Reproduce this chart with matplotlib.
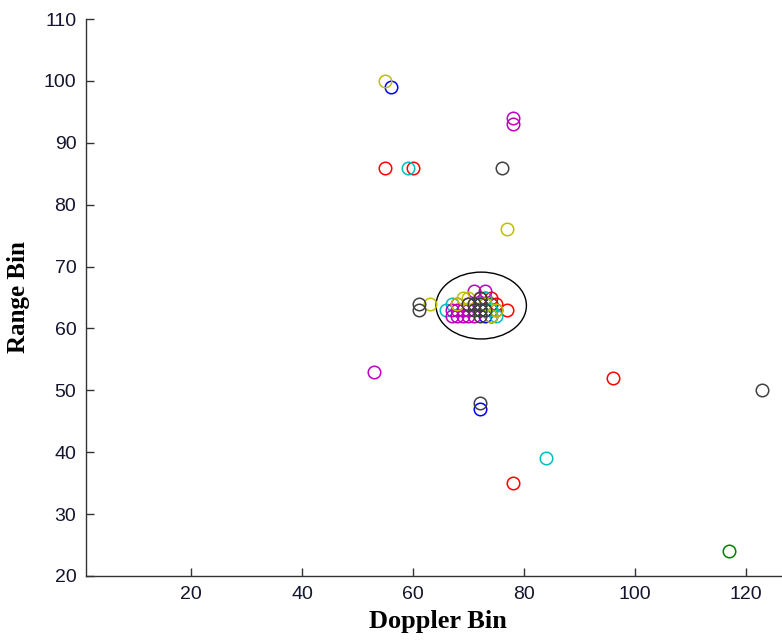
import matplotlib.pyplot as plt
from matplotlib.patches import Ellipse

# detections per tracking color (Doppler bin, range bin)
blue_x = [56, 72, 73, 73, 74, 74, 74, 72]
blue_y = [99, 47, 62, 63, 62, 63, 64, 64]
green_x = [117, 72, 73, 74]
green_y = [24, 63, 64, 64]
red_x = [55, 60, 96, 78, 77, 72, 73, 74, 75, 75]
red_y = [86, 86, 52, 35, 63, 65, 65, 65, 64, 63]
cyan_x = [59, 84, 66, 67, 73, 74, 75]
cyan_y = [86, 39, 63, 64, 65, 63, 62]
magenta_x = [78, 78, 53, 71, 73, 67, 67, 68, 68, 68, 69, 69, 70, 70, 70, 71]
magenta_y = [94, 93, 53, 66, 66, 62, 63, 62, 63, 64, 62, 63, 62, 63, 64, 62]
yellow_x = [55, 77, 63, 68, 69, 70, 73, 74, 75]
yellow_y = [100, 76, 64, 64, 65, 65, 64, 62, 63]
black_x = [76, 61, 61, 72, 123, 70, 71, 71, 72, 72, 72, 72, 73]
black_y = [86, 64, 63, 48, 50, 64, 63, 64, 62, 63, 64, 65, 63]

# cluster outline
cluster_center = (72.3, 63.7)
cluster_w = 16.3
cluster_h = 10.8

series = [
    (blue_x, blue_y, (0, 0, 1)),
    (green_x, green_y, (0, 0.5, 0)),
    (red_x, red_y, (1, 0, 0)),
    (cyan_x, cyan_y, (0, 0.75, 0.75)),
    (magenta_x, magenta_y, (0.75, 0, 0.75)),
    (yellow_x, yellow_y, (0.75, 0.75, 0)),
    (black_x, black_y, (0.25, 0.25, 0.25)),
]

fig = plt.figure(figsize=(7.82, 6.40), dpi=100)
ax = fig.add_axes([86 / 782, 64 / 640, 704 / 782, 557 / 640])

for xs, ys, col in series:
    ax.plot(xs, ys, 'o', markerfacecolor='none', markeredgecolor=col,
            markersize=9, markeredgewidth=1.1, linestyle='none')

ax.add_patch(Ellipse(cluster_center, cluster_w, cluster_h, fill=False,
                     edgecolor='black', linewidth=1.0))

ax.set_xlim(1, 128)
ax.set_ylim(20, 110)
ax.set_xticks(range(20, 121, 20))
ax.set_yticks(range(20, 111, 10))

for s in ['top', 'right']:
    ax.spines[s].set_visible(False)
for s in ['left', 'bottom']:
    ax.spines[s].set_color('#333333')
    ax.spines[s].set_linewidth(1.0)

ax.tick_params(direction='in', length=6, width=1.0, color='#333333',
               labelsize=14, labelcolor='#14142e', pad=7)
for lab in ax.get_xticklabels() + ax.get_yticklabels():
    lab.set_family('Liberation Sans')

ax.set_xlabel('Doppler Bin', family='Liberation Serif', fontweight='bold',
              fontsize=19, labelpad=5)
ax.set_ylabel('Range Bin', family='Liberation Serif', fontweight='bold',
              fontsize=18, labelpad=10)

fig.savefig('out.png', dpi=100)
